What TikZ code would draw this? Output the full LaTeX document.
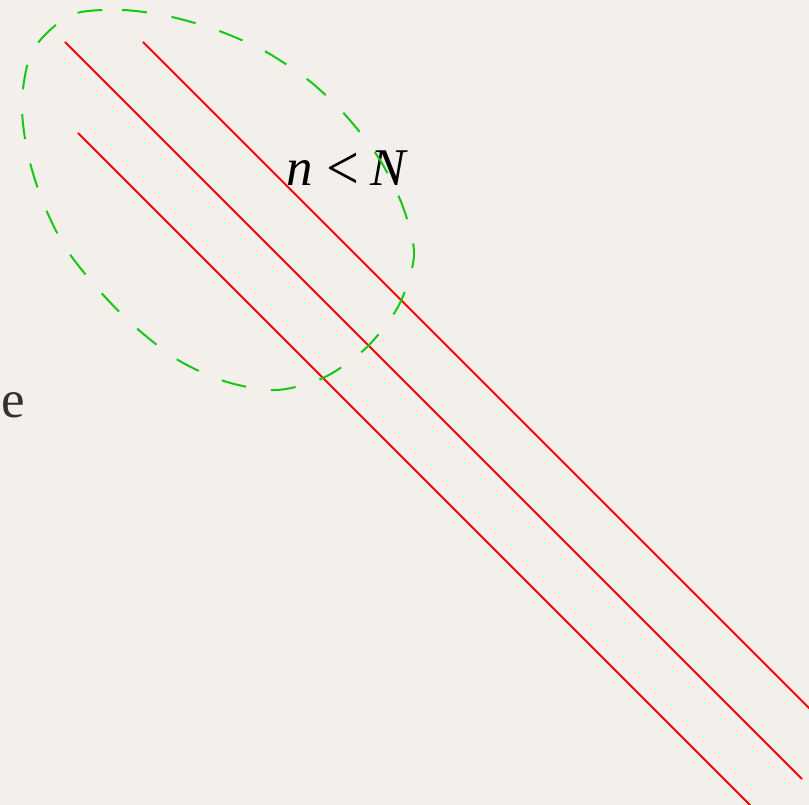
\documentclass[tikz,border=0pt]{standalone}
\usepackage{graphicx}
\usepackage{fontspec}
\setmainfont{Liberation Serif}
\usepackage{tikz}
\usetikzlibrary{calc}
\definecolor{paper}{RGB}{243,239,234}
\definecolor{loopgreen}{RGB}{20,200,20}
\definecolor{inkgray}{RGB}{52,48,45}
\begin{document}
\begin{tikzpicture}[x=1pt,y=-1pt,line cap=butt,
  redline/.style={red,line width=1.8pt},
  loopline/.style={loopgreen,line width=2pt,dash pattern=on 25pt off 25pt},
  bigtext/.style={inner sep=0pt,font=\fontsize{53}{60}\selectfont}]
% paper
\fill[paper] (0,0) rectangle (809,805);
\useasboundingbox (0,0) rectangle (809,805);
\coordinate (A1) at (143,42);
\coordinate (B1) at (810,709);
\coordinate (A2) at (65,42);
\coordinate (B2) at (802,779);
\coordinate (A3) at (78,133);
\coordinate (B3) at (751,806);
% parallel lines
\draw[redline] (A1)--(B1);
\draw[redline] (A2)--(B2);
\draw[redline] (A3)--(B3);
% labels
\node[bigtext,anchor=base west] (cond) at (286,186)
  {\itshape n\/\hspace{14pt}\upshape\raisebox{-4pt}{\scalebox{1.1}[1.2]{<}}\hspace{11pt}\itshape N};
\node[bigtext,anchor=base east,text=inkgray] (tail) at (25,417) {e};
% dashed loop
\draw[loopline] plot[smooth cycle] coordinates {
  (71,15) (122,10) (172,17) (222,32) (268,53) (312,83) (348,118)
  (380,160) (403,207) (414,255) (399,305) (367,347) (325,377)
  (277,390) (227,382) (178,360) (133,325) (97,288) (65,247)
  (42,200) (27,150) (22,100) (33,50)};
\end{tikzpicture}
\end{document}
